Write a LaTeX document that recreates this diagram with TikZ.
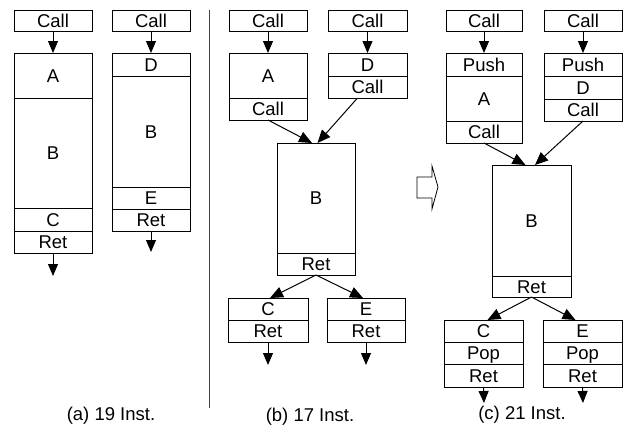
\documentclass[tikz,border=0pt]{standalone}
\usepackage{fontspec}
\setmainfont{Liberation Sans}
\usetikzlibrary{arrows.meta}
\newcommand{\bx}[6]{\node[seg,minimum width={(#4-#2)*1pt},minimum height={(#5-#3)*1pt},anchor=north west] (#1) at (#2,#3) {#6};}
\begin{document}
\begin{tikzpicture}[x=1pt,y=-1pt,
  font=\fontsize{18.5}{22}\selectfont,
  seg/.style={draw,line width=1pt,inner sep=0pt,outer sep=0pt,text height=13.2pt,text depth=0pt},
  arr/.style={line width=1pt,-{Triangle[length=12pt,width=10pt]}},
  darr/.style={line width=1pt,-{Triangle[length=13pt,width=11pt]}},
  captext/.style={inner sep=0pt}]
\useasboundingbox (0,0) rectangle (625,432);
% ---------- (a) ----------
\bx{aCall1}{14}{10}{92}{31}{Call}
\bx{aA}{14}{53}{92}{98}{A}
\bx{aB}{14}{98}{92}{208}{B}
\bx{aC}{14}{208}{92}{231}{C}
\bx{aR}{14}{231}{92}{253}{Ret}
\coordinate (aOut) at (53,276);
\draw[arr] (aCall1.south) -- (aA.north);
\draw[arr] (aR.south) -- (aOut);
\bx{aCall2}{112}{10}{190}{31}{Call}
\bx{aD}{112}{53}{190}{76}{D}
\bx{aB2}{112}{76}{190}{187}{B}
\bx{aE}{112}{187}{190}{209}{E}
\bx{aR2}{112}{209}{190}{231}{Ret}
\coordinate (aOut2) at (151,252);
\draw[arr] (aCall2.south) -- (aD.north);
\draw[arr] (aR2.south) -- (aOut2);
\node[captext] (capa) at (111,416) {(a) 19 Inst.};
% separator
\draw[line width=1pt,black!75] (209,10) -- (209,408);
% ---------- (b) ----------
\bx{bCall1}{229}{10}{307}{31}{Call}
\bx{bA}{229}{53}{307}{98}{A}
\bx{bAc}{229}{98}{307}{120}{Call}
\bx{bCall2}{328}{10}{407}{31}{Call}
\bx{bD}{328}{53}{407}{76}{D}
\bx{bDc}{328}{76}{407}{98}{Call}
\bx{bB}{277}{143}{355}{253}{B}
\bx{bR}{277}{253}{355}{275}{Ret}
\bx{bC}{228}{298}{308}{320}{C}
\bx{bCr}{228}{320}{308}{342}{Ret}
\bx{bE}{327}{298}{405}{320}{E}
\bx{bEr}{327}{320}{405}{342}{Ret}
\draw[arr] (bCall1.south) -- (bA.north);
\draw[arr] (bCall2.south) -- (bD.north);
\draw[darr] (bAc.south) -- ([xshift=-4pt]bB.north);
\draw[darr] ([xshift=-10pt]bDc.south) -- ([xshift=1.5pt]bB.north);
\draw[darr] (bR.south) -- ([xshift=2pt]bC.north);
\draw[darr] (bR.south) -- ([xshift=-3pt]bE.north);
\coordinate (bOut1) at (268,365);
\coordinate (bOut2) at (366,365);
\draw[arr] (bCr.south) -- (bOut1);
\draw[arr] (bEr.south) -- (bOut2);
\node[captext] (capb) at (310,417) {(b) 17 Inst.};
% hollow arrow
\draw[line width=0.8pt] (417,177) -- (432,177) -- (432,166) -- (438,187) -- (432,209) -- (432,198) -- (417,198) -- cycle;
% ---------- (c) ----------
\bx{cCall1}{446}{10}{522}{31}{Call}
\bx{cP1}{446}{53}{522}{76}{Push}
\bx{cA}{446}{76}{522}{121}{A}
\bx{cAc}{446}{121}{522}{143}{Call}
\bx{cCall2}{544}{10}{622}{31}{Call}
\bx{cP2}{544}{53}{622}{76}{Push}
\bx{cD}{544}{76}{622}{99}{D}
\bx{cDc}{544}{99}{622}{121}{Call}
\bx{cB}{492}{165}{571}{276}{B}
\bx{cR}{492}{276}{571}{297}{Ret}
\bx{cC}{444}{320}{523}{342}{C}
\bx{cCp}{444}{342}{523}{364}{Pop}
\bx{cCr}{444}{364}{523}{387}{Ret}
\bx{cE}{543}{320}{622}{342}{E}
\bx{cEp}{543}{342}{622}{364}{Pop}
\bx{cEr}{543}{364}{622}{387}{Ret}
\draw[arr] (cCall1.south) -- (cP1.north);
\draw[arr] (cCall2.south) -- (cP2.north);
\draw[darr] (cAc.south) -- ([xshift=-6pt]cB.north);
\draw[darr] (cDc.south) -- ([xshift=3.5pt]cB.north);
\draw[darr] (cR.south) -- ([xshift=4pt]cC.north);
\draw[darr] (cR.south) -- ([xshift=-7pt]cE.north);
\coordinate (cOut1) at (484,403);
\coordinate (cOut2) at (583,403);
\draw[arr] (cCr.south) -- (cOut1);
\draw[arr] (cEr.south) -- (cOut2);
\node[captext] (capc) at (522,415) {(c) 21 Inst.};
\end{tikzpicture}
\end{document}
